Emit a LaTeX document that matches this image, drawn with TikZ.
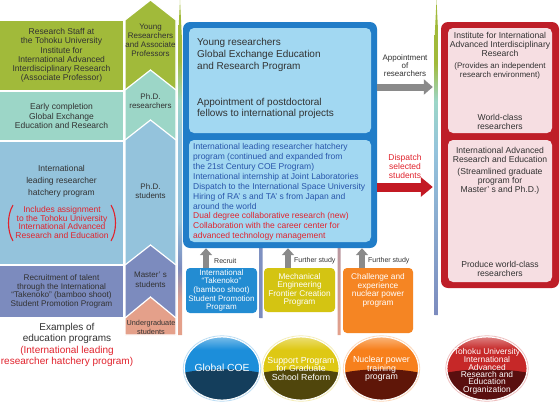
\documentclass[tikz,border=0pt]{standalone}
\usepackage{fontspec}
\setmainfont{Liberation Sans}
\usetikzlibrary{arrows.meta}
\definecolor{cGreen}{RGB}{161,186,58}
\definecolor{cTeal}{RGB}{156,214,199}
\definecolor{cLBlue}{RGB}{148,195,220}
\definecolor{cPurple}{RGB}{124,139,190}
\definecolor{cSalmon}{RGB}{228,160,138}
\definecolor{cText}{RGB}{50,50,50}
\definecolor{cBoxBlue}{RGB}{33,125,200}
\definecolor{cPanelBlue}{RGB}{162,216,242}
\definecolor{cTextBlue}{RGB}{40,85,170}
\definecolor{cRedText}{RGB}{225,35,45}
\definecolor{cBoxRed}{RGB}{190,30,40}
\definecolor{cPanelPink}{RGB}{246,222,226}
\definecolor{cArrowGray}{RGB}{138,138,138}
\definecolor{cArrowRed}{RGB}{195,25,35}
\definecolor{cSmallBlue}{RGB}{35,140,210}
\definecolor{cSmallYellow}{RGB}{212,196,18}
\definecolor{cSmallOrange}{RGB}{245,133,35}
\definecolor{oBlue}{RGB}{28,142,218}
\definecolor{oBlueD}{RGB}{20,62,92}
\definecolor{oYel}{RGB}{222,200,20}
\definecolor{oYelD}{RGB}{80,70,12}
\definecolor{oOr}{RGB}{247,128,28}
\definecolor{oOrD}{RGB}{95,22,8}
\definecolor{oRed}{RGB}{198,40,40}
\definecolor{oRedD}{RGB}{90,15,15}
\pgfdeclareverticalshading{stripA}{100bp}{color(0bp)=(cSalmon); color(25bp)=(cSalmon); color(30bp)=(cSalmon); color(35bp)=(cPurple); color(42bp)=(cLBlue); color(54bp)=(cLBlue); color(60bp)=(cTeal); color(66bp)=(cGreen); color(100bp)=(cGreen)}
\pgfdeclareverticalshading{stripC}{100bp}{color(0bp)=(cPurple); color(25bp)=(cPurple); color(35bp)=(cPurple!60!cLBlue); color(51bp)=(cLBlue); color(59bp)=(cTeal); color(65bp)=(cGreen); color(100bp)=(cGreen)}
\newcommand{\fsz}[2]{\fontsize{#1}{#2}\selectfont}
\newcommand{\drawOrb}[5]{%
  \begin{scope}
    \clip (#1,#2) ellipse [x radius=#5, y radius=31.5];
    \fill[#3] (#1-#5-2,#2-33) rectangle (#1+#5+2,#2+33);
    \shade[top color=#3!55!white, bottom color=#3] (#1-#5-2,#2-33) rectangle (#1+#5+2,#2-19);
    \fill[#4] (#1-#5-2,#2+4.5) .. controls (#1-18,#2-0.5) and (#1+18,#2-0.5) .. (#1+#5+2,#2+4.5) -- (#1+#5+2,#2+33) -- (#1-#5-2,#2+33) -- cycle;
  \end{scope}
  \draw[#3!30!white, line width=0.8pt] (#1,#2) ellipse [x radius=#5+1.2, y radius=32.7];
  \draw[white, line width=0.9pt] (#1,#2) ellipse [x radius=#5, y radius=31.5];
}
\begin{document}
\begin{tikzpicture}[x=1pt,y=-1pt,
  txt/.style={inner sep=0pt, align=center, text=cText},
  ltxt/.style={inner sep=0pt, align=left},
  box/.style={inner sep=0pt},
  chev/.style={draw=white, line width=1.2pt},
  garrow/.style={draw=cArrowGray, line width=7pt, -{Triangle[length=9pt,width=15pt]}},
  rarrow/.style={draw=cArrowRed, line width=9pt, -{Triangle[length=12pt,width=19pt]}},
  uarrow/.style={draw=cArrowGray, line width=5.5pt, -{Triangle[length=7pt,width=12pt]}},
  orbtxt/.style={inner sep=0pt, align=center, text=white},
  stxt/.style={inner sep=0pt, align=center, text=white, font=\fsz{8}{8.6}}]
\fill[white] (0,0) rectangle (560,402);
\useasboundingbox (0,0) rectangle (560,402);

% ---------- left column ----------
\node[txt, fill=cGreen, minimum width=123pt, minimum height=69pt, font=\fsz{8.5}{9.3}] (lg) at (61.5,55.5)
  {Research Staff at\\the Tohoku University\\Institute for\\International Advanced\\Interdisciplinary Research\\(Associate Professor)};
\node[txt, fill=cTeal, minimum width=123pt, minimum height=48pt, font=\fsz{8.5}{9.3}] (lt) at (61.5,116)
  {Early completion\\Global Exchange\\Education and Research};
\node[box, fill=cLBlue, minimum width=123pt, minimum height=122pt] (lb) at (61.5,203) {};
\node[txt, font=\fsz{8.5}{12}] (lbt) at (61.5,181) {International\\leading researcher\\hatchery program};
\node[txt, text=cRedText, font=\fsz{8.5}{8.7}] (lbr) at (62,222.5)
  {Includes assignment\\to the Tohoku University\\International Advanced\\Research and Education};
\draw[cRedText, line width=1.1pt] (13,205) .. controls (7,215) and (7,231) .. (13,241);
\draw[cRedText, line width=1.1pt] (111,205) .. controls (117,215) and (117,231) .. (111,241);
\node[txt, fill=cPurple, minimum width=123pt, minimum height=51pt, font=\fsz{8.2}{8.7}] (lp) at (61.5,291.5)
  {Recruitment of talent\\through the International\\“Takenoko” (bamboo shoot)\\Student Promotion Program};
\node[txt, font=\fsz{10}{11}] (ex) at (67,333.5) {Examples of\\education programs};
\node[txt, text=cRedText, font=\fsz{10}{11}] (exr) at (67,356) {(International leading\\researcher hatchery program)};

% ---------- chevrons ----------
\filldraw[chev, fill=cGreen] (125,20)--(150.5,0)--(176,20)--(176,90)--(125,90)--cycle;
\filldraw[chev, fill=cTeal] (125,90)--(150.5,70)--(176,90)--(176,140)--(125,140)--cycle;
\filldraw[chev, fill=cLBlue] (125,140)--(150.5,120)--(176,140)--(176,265)--(125,265)--cycle;
\filldraw[chev, fill=cPurple] (125,265)--(150.5,245)--(176,265)--(176,318)--(125,318)--cycle;
\filldraw[chev, fill=cSalmon] (125,318)--(150.5,297)--(176,318)--(176,335)--(125,335)--cycle;
\node[txt, font=\fsz{8}{9}] (c1) at (150.5,40.5) {Young\\Researchers\\and Associate\\Professors};
\node[txt, font=\fsz{8}{9}] (c2) at (150.5,101.5) {Ph.D.\\researchers};
\node[txt, font=\fsz{8}{9}] (c3) at (150.5,191) {Ph.D.\\students};
\node[txt, font=\fsz{8}{9.5}] (c4) at (150.5,280) {Master’ s\\students};
\node[txt, font=\fsz{7.3}{8.5}] (c5) at (151,327.5) {Undergraduate\\students};

% ---------- gradient strips ----------
\shade[shading=stripA] (178,335)--(178,40)--(180,0)--(182,40)--(182,335)--cycle;
\shade[shading=stripC] (434.5,315)--(434.5,40)--(436.5,0)--(438.5,40)--(438.5,315)--cycle;
\shade[top color=cPurple!70!cLBlue, bottom color=cPurple] (259.5,150)--(261,130)--(262.5,150)--(262.5,318)--(259.5,318)--cycle;
\shade[top color=cPurple, middle color=cPurple, bottom color=cSalmon] (337.5,150)--(339,130)--(340.5,150)--(340.5,335)--(337.5,335)--cycle;

% ---------- central blue box ----------
\node[box, fill=cBoxBlue, rounded corners=7pt, minimum width=194pt, minimum height=226pt] (bb) at (280,135) {};
\node[box, fill=cPanelBlue, rounded corners=5pt, minimum width=182pt, minimum height=105pt] (bt) at (280,80.5) {};
\node[box, fill=cPanelBlue, rounded corners=5pt, minimum width=182pt, minimum height=102pt] (bl) at (280,191) {};
\node[ltxt, anchor=west, text=cText, font=\fsz{10}{11.7}] (bt1) at (197,55) {Young researchers\\Global Exchange Education\\and Research Program};
\node[ltxt, anchor=west, text=cText, font=\fsz{10}{11.5}] (bt2) at (197,108.5) {Appointment of postdoctoral\\fellows to international projects};
\node[ltxt, anchor=west, text=cTextBlue, font=\fsz{8.5}{9.85}] (bl1) at (193,176.5)
  {International leading researcher hatchery\\program (continued and expanded from\\the 21st Century COE Program)\\International internship at Joint Laboratories\\Dispatch to the International Space University\\Hiring of RA’ s and TA’ s from Japan and\\around the world};
\node[ltxt, anchor=west, text=cRedText, font=\fsz{8.5}{9.85}] (bl2) at (193,226)
  {Dual degree collaborative research (new)\\Collaboration with the career center for\\advanced technology management};

% ---------- right red box ----------
\node[box, fill=cBoxRed, rounded corners=7pt, minimum width=118pt, minimum height=266pt] (rb) at (500,155) {};
\node[box, fill=cPanelPink, rounded corners=5pt, minimum width=104pt, minimum height=105pt] (rt) at (500,80.5) {};
\node[box, fill=cPanelPink, rounded corners=5pt, minimum width=104pt, minimum height=142pt] (rl) at (500,211) {};
\node[txt, font=\fsz{8.6}{9}] (rt1) at (500,44) {Institute for International\\Advanced Interdisciplinary\\Research};
\node[txt, font=\fsz{8}{9}] (rt2) at (500,70.5) {(Provides an independent\\research environment)};
\node[txt, font=\fsz{8.6}{8.5}] (rt3) at (500,122) {World-class\\researchers};
\node[txt, font=\fsz{8.6}{9}] (rl1) at (500,154.5) {International Advanced\\Research and Education};
\node[txt, font=\fsz{8.6}{9}] (rl2) at (500,181) {(Streamlined graduate\\program for\\Master’ s and Ph.D.)};
\node[txt, font=\fsz{8.6}{8.5}] (rl3) at (500,269) {Produce world-class\\researchers};

% ---------- horizontal arrows ----------
\coordinate (ga) at (0,87);
\coordinate (ra) at (0,187);
\draw[garrow, shorten >=8pt] (bb.east |- ga) -- (rb.west |- ga);
\draw[rarrow, shorten >=8pt] (bb.east |- ra) -- (rb.west |- ra);
\node[txt, font=\fsz{8}{8}] (gal) at (405,66) {Appointment\\of\\researchers};
\node[txt, text=cRedText, font=\fsz{8.5}{9}] (ral) at (405,166) {Dispatch\\selected\\students};

% ---------- small program boxes ----------
\node[stxt, fill=cSmallBlue, rounded corners=4pt, minimum width=71pt, minimum height=45pt] (s1) at (221.5,290.5)
  {International\\“Takenoko”\\(bamboo shoot)\\Student Promotion\\Program};
\node[stxt, fill=cSmallYellow, rounded corners=4pt, minimum width=71pt, minimum height=44pt, font=\fsz{8.3}{8.5}] (s2) at (299.5,290)
  {Mechanical\\Engineering\\Frontier Creation\\Program};
\node[box, fill=cSmallOrange, rounded corners=4pt, minimum width=70pt, minimum height=65pt] (s3) at (378,300.5) {};
\node[stxt, font=\fsz{8.3}{8.5}] (s3t) at (378,290.5) {Challenge and\\experience\\nuclear power\\program};
\draw[uarrow] ([xshift=-15.5pt]s1.north) -- ([xshift=-15.5pt]s1.north |- bb.south);
\draw[uarrow] ([xshift=-11.5pt]s2.north) -- ([xshift=-11.5pt]s2.north |- bb.south);
\draw[uarrow] ([xshift=-16pt]s3.north) -- ([xshift=-16pt]s3.north |- bb.south);
\node[txt, anchor=west, font=\fsz{7}{8}] (u1) at (214,261) {Recruit};
\node[txt, anchor=west, font=\fsz{7}{8}] (u2) at (294,261) {Further study};
\node[txt, anchor=west, font=\fsz{7}{8}] (u3) at (368,261) {Further study};

% ---------- orbs ----------
\drawOrb{222}{368.5}{oBlue}{oBlueD}{37.5}
\drawOrb{301}{368.5}{oYel}{oYelD}{38}
\drawOrb{381.5}{368.5}{oOr}{oOrD}{37}
\drawOrb{487}{368.5}{oRed}{oRedD}{40}
\node[orbtxt, font=\fsz{10.3}{11}] (o1) at (222,368) {Global COE};
\node[orbtxt, font=\fsz{8.8}{8.5}] (o2) at (301,368.5) {Support Program\\for Graduate\\School Reform};
\node[orbtxt, font=\fsz{8.8}{8.2}] (o3) at (381.5,368.5) {Nuclear power\\training\\program};
\node[orbtxt, font=\fsz{8.4}{7.3}] (o4) at (487,371) {Tohoku University\\International\\Advanced\\Research and\\Education\\Organization};
\end{tikzpicture}
\end{document}
